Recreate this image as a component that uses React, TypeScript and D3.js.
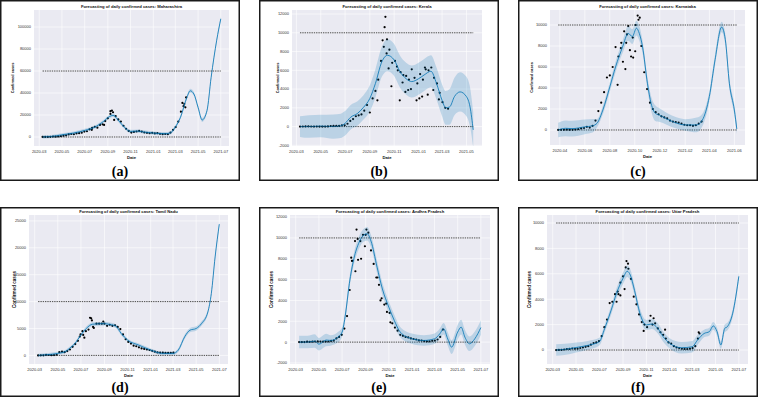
import React from "react";
import * as d3 from "d3";

const W = 759;
const H = 400;

// forecast rows: [date, yhat, half width of the uncertainty band]
type Fc = [string, number, number];
type Pt = [string, number];

const mhForecast: Fc[] = [
  ["2020-03-10", 0, 1500], ["2020-04-01", 400, 1500], ["2020-05-01", 2000, 1500],
  ["2020-06-01", 3600, 1500], ["2020-07-01", 6000, 1500], ["2020-08-01", 9700, 1500],
  ["2020-08-20", 14000, 1500], ["2020-09-05", 18500, 1600], ["2020-09-15", 19700, 1600],
  ["2020-10-01", 14500, 1600], ["2020-10-15", 9000, 1500], ["2020-11-01", 5100, 1500],
  ["2020-11-20", 5400, 1500], ["2020-12-01", 4800, 1500], ["2021-01-01", 3600, 1500],
  ["2021-02-01", 3000, 1500], ["2021-02-15", 3600, 1500], ["2021-03-01", 9000, 1600],
  ["2021-03-15", 18000, 1700], ["2021-04-01", 36000, 1800], ["2021-04-10", 42000, 1800],
  ["2021-04-20", 39000, 1800], ["2021-05-01", 27000, 1800], ["2021-05-12", 15500, 1800],
  ["2021-05-25", 24000, 1800], ["2021-06-05", 54000, 1800], ["2021-06-20", 88000, 1800],
  ["2021-07-01", 107500, 1800],
];
// weekly observations from mhObsStart
const mhObsStart = "2020-03-10";
const mhObs = [
  10, 30, 60, 100, 400, 300, 500, 700, 1200, 1500, 2300, 2700, 2500, 3200, 3500, 3900,
  4900, 5200, 7000, 8300, 9300, 8500, 11000, 11500, 14500, 17000, 21000, 22500, 19000,
  16000, 14000, 10200, 7500, 5500, 4000, 4600, 5000, 5500, 4900, 4100, 3800, 3400, 3800,
  3200, 3500, 2900, 2600, 2700, 2500, 4000, 6500, 9000, 14000, 23000, 28000, 36000,
];
const mhExtra: Pt[] = [
  ["2020-09-12", 24000], ["2020-09-18", 15500], ["2020-08-22", 11000], ["2020-07-20", 6500],
  ["2021-03-25", 30000], ["2021-03-28", 27000], ["2021-03-20", 31000], ["2020-09-08", 23500],
];

const klForecast: Fc[] = [
  ["2020-03-10", 0, 1100], ["2020-04-01", 0, 1200], ["2020-05-01", 50, 1200],
  ["2020-06-01", 0, 1300], ["2020-06-20", 80, 1300], ["2020-07-01", 350, 1300],
  ["2020-07-15", 1000, 1300], ["2020-08-01", 1400, 1300], ["2020-08-15", 2000, 1300],
  ["2020-09-01", 3000, 1400], ["2020-09-15", 4600, 1500], ["2020-10-01", 6900, 1600],
  ["2020-10-15", 7600, 1700], ["2020-11-01", 7100, 1700], ["2020-11-15", 5900, 1700],
  ["2020-12-01", 5100, 1700], ["2020-12-15", 4800, 1700], ["2021-01-01", 5100, 1700],
  ["2021-01-15", 5500, 1700], ["2021-02-01", 5900, 1700], ["2021-02-15", 4600, 1700],
  ["2021-03-01", 2800, 1700], ["2021-03-10", 2000, 1800], ["2021-03-20", 2100, 1900],
  ["2021-04-01", 3200, 2000], ["2021-04-15", 3700, 2100], ["2021-05-01", 3200, 2100],
  ["2021-05-10", 2100, 2100], ["2021-05-18", -350, 1900],
];
const klObsStart = "2020-03-10";
const klObs = [
  5, 10, 20, 30, 10, 5, 10, 5, 0, 5, 20, 60, 80, 90, 80, 140, 130, 300, 600, 800, 1100,
  1200, 1300, 1700, 2300, 1500, 3000, 3800, 5000, 7000, 8500, 7800, 8200, 6800, 7000,
  6000, 5800, 5500, 5400, 5000, 6100, 5200, 4600, 5600, 5000, 6100, 6000, 6300, 5200,
  4600, 3600, 2600, 2000, 1900,
];
const klExtra: Pt[] = [
  ["2020-10-08", 10600], ["2020-10-10", 11700], ["2020-10-03", 9200], ["2020-10-14", 9300],
  ["2020-10-25", 4300], ["2020-11-15", 2800], ["2020-12-06", 3900], ["2020-12-27", 2800],
  ["2021-01-10", 3200], ["2021-01-24", 3400], ["2021-02-07", 3900], ["2021-01-03", 3000],
  ["2020-11-29", 3700], ["2020-11-22", 4700], ["2020-12-13", 4000], ["2021-02-21", 2900],
  ["2020-09-20", 2800], ["2020-10-18", 6200], ["2020-11-08", 6400], ["2021-01-17", 6300],
];

const kaForecast: Fc[] = [
  ["2020-03-28", 0, 700], ["2020-04-15", 160, 750], ["2020-05-01", 130, 750],
  ["2020-06-01", 300, 700], ["2020-06-20", 400, 650], ["2020-07-01", 650, 400],
  ["2020-07-15", 1900, 400], ["2020-08-01", 4100, 450], ["2020-08-15", 6000, 500],
  ["2020-09-01", 7900, 600], ["2020-09-15", 9200, 700], ["2020-09-25", 8900, 700],
  ["2020-10-05", 9700, 700], ["2020-10-12", 9200, 700], ["2020-10-20", 7900, 600],
  ["2020-11-01", 4400, 600], ["2020-11-10", 2500, 700], ["2020-11-20", 1600, 750],
  ["2020-12-01", 1400, 650], ["2021-01-01", 800, 550], ["2021-02-01", 480, 550],
  ["2021-03-01", 480, 700], ["2021-03-15", 950, 600], ["2021-04-01", 3200, 500],
  ["2021-04-15", 6700, 500], ["2021-05-01", 9800, 500], ["2021-05-10", 8600, 500],
  ["2021-05-20", 4400, 500], ["2021-06-01", 1900, 500], ["2021-06-07", 100, 500],
];
const kaObsStart = "2020-03-28";
const kaObs = [
  10, 15, 20, 30, 20, 15, 40, 80, 150, 190, 300, 230, 400, 900, 1800, 2600, 3600, 5000,
  5200, 6000, 7900, 7000, 8300, 9400, 9100, 7600, 8800, 10000, 10500, 8000, 5500, 3900,
  2600, 2000, 1700, 1500, 1300, 1200, 1100, 900, 800, 750, 700, 600, 500, 450, 450, 400,
  450, 600, 800,
];
const kaExtra: Pt[] = [
  ["2020-08-20", 4300], ["2020-09-02", 6500], ["2020-09-08", 5800], ["2020-09-22", 7000],
  ["2020-09-27", 6900], ["2020-09-15", 9900], ["2020-10-08", 10900], ["2020-10-13", 10700],
  ["2020-08-28", 7800], ["2020-09-10", 8300], ["2020-10-02", 7500],
];

const tnForecast: Fc[] = [
  ["2020-03-10", 0, 300], ["2020-04-01", 120, 300], ["2020-05-01", 370, 300],
  ["2020-05-20", 680, 300], ["2020-06-01", 1300, 300], ["2020-06-15", 2200, 300],
  ["2020-07-01", 3800, 300], ["2020-07-15", 5000, 350], ["2020-08-01", 5800, 350],
  ["2020-09-01", 5900, 350], ["2020-09-15", 5750, 350], ["2020-10-01", 5450, 350],
  ["2020-10-15", 4100, 350], ["2020-11-01", 2850, 300], ["2020-12-01", 1900, 300],
  ["2021-01-01", 1000, 300], ["2021-02-01", 370, 300], ["2021-03-01", 370, 300],
  ["2021-03-15", 1000, 350], ["2021-04-01", 3500, 400], ["2021-04-15", 4700, 400],
  ["2021-05-01", 5000, 400], ["2021-05-15", 5900, 400], ["2021-06-01", 8100, 400],
  ["2021-06-10", 11500, 400], ["2021-06-20", 18300, 400], ["2021-07-01", 24400, 400],
];
const tnObsStart = "2020-03-10";
const tnObs = [
  0, 5, 15, 100, 70, 40, 60, 120, 600, 700, 600, 800, 1100, 1600, 2100, 2700, 3900, 3800,
  4500, 4800, 6900, 5100, 5900, 5900, 5900, 5900, 5500, 5700, 5500, 5600, 5300, 4900, 3900,
  3000, 2500, 2200, 1800, 1700, 1500, 1300, 1200, 1100, 1000, 850, 700, 550, 530, 500, 460,
  450, 470, 500,
];
const tnExtra: Pt[] = [
  ["2020-07-25", 7000], ["2020-07-30", 6500], ["2020-08-02", 5300], ["2020-07-10", 3300],
  ["2020-07-05", 4500], ["2020-06-28", 3500], ["2020-08-29", 6300],
];

const apForecast: Fc[] = [
  ["2020-03-10", 0, 600], ["2020-04-01", 0, 600], ["2020-04-20", 100, 650],
  ["2020-05-01", -200, 600], ["2020-05-20", 200, 600], ["2020-06-01", 160, 500],
  ["2020-06-20", 480, 500], ["2020-07-01", 960, 450], ["2020-07-10", 2700, 450],
  ["2020-07-20", 5600, 500], ["2020-08-01", 8000, 550], ["2020-08-15", 9600, 600],
  ["2020-08-25", 10200, 600], ["2020-09-05", 10400, 650], ["2020-09-15", 9700, 600],
  ["2020-10-01", 7200, 600], ["2020-10-15", 5100, 600], ["2020-11-01", 3350, 550],
  ["2020-11-15", 2100, 550], ["2020-12-01", 960, 500], ["2021-01-01", 320, 500],
  ["2021-02-01", 160, 500], ["2021-03-01", 320, 500], ["2021-03-15", 800, 500],
  ["2021-03-25", 1280, 550], ["2021-04-05", 300, 650], ["2021-04-15", -480, 650],
  ["2021-05-01", 960, 700], ["2021-05-10", 1440, 700], ["2021-05-20", 480, 700],
  ["2021-06-01", -160, 700], ["2021-06-15", 320, 700], ["2021-07-01", 1400, 700],
];
const apObsStart = "2020-03-10";
const apObs = [
  0, 0, 5, 40, 30, 40, 60, 70, 60, 50, 50, 60, 110, 150, 350, 500, 700, 1300, 2500, 5000,
  7800, 9700, 9900, 9700, 10300, 10300, 10500, 8800, 7500, 6200, 5500, 4200, 3600, 2900,
  2800, 1800, 1400, 1100, 700, 600, 500, 450, 350, 300, 250, 160, 150, 100, 70, 80, 120,
  150, 250, 500, 1200,
];
const apExtra: Pt[] = [
  ["2020-07-25", 8100], ["2020-07-27", 7800], ["2020-08-05", 6800], ["2020-08-12", 7900],
  ["2020-08-20", 8000], ["2020-08-08", 10800], ["2020-09-03", 10800], ["2020-10-02", 6200],
  ["2020-10-25", 3700], ["2020-11-05", 1900], ["2020-10-10", 4000], ["2020-08-30", 9200],
];

const upForecast: Fc[] = [
  ["2020-03-10", 0, 450], ["2020-04-01", 50, 450], ["2020-05-01", 200, 400],
  ["2020-06-01", 370, 350], ["2020-07-01", 660, 300], ["2020-07-15", 1700, 300],
  ["2020-08-01", 3150, 350], ["2020-08-15", 4470, 400], ["2020-09-01", 5650, 450],
  ["2020-09-12", 6200, 450], ["2020-09-20", 5900, 450], ["2020-10-01", 4700, 400],
  ["2020-10-15", 2900, 400], ["2020-11-01", 1970, 400], ["2020-11-15", 2050, 400],
  ["2020-12-01", 1700, 400], ["2020-12-15", 1050, 400], ["2021-01-01", 530, 400],
  ["2021-02-01", 180, 450], ["2021-03-01", 260, 450], ["2021-03-15", 790, 400],
  ["2021-04-01", 1300, 300], ["2021-04-15", 1450, 300], ["2021-04-25", 1900, 300],
  ["2021-05-05", 1450, 300], ["2021-05-15", 400, 300], ["2021-05-25", 1700, 300],
  ["2021-06-01", 1840, 300], ["2021-06-15", 2900, 300], ["2021-07-01", 5800, 300],
];
const upObsStart = "2020-03-10";
const upObs = [
  0, 5, 10, 40, 80, 90, 120, 100, 110, 160, 200, 250, 300, 420, 550, 600, 700, 1100, 1800,
  2400, 3700, 3800, 4400, 4600, 5300, 5800, 6500, 6400, 5600, 4200, 3600, 2800, 2200, 2000,
  1800, 2300, 2000, 2100, 1700, 1400, 1200, 900, 600, 500, 300, 200, 150, 100, 90, 80, 110,
  150, 300, 900,
];
const upExtra: Pt[] = [
  ["2020-09-10", 7000], ["2020-09-14", 6800], ["2020-09-05", 4800], ["2020-08-20", 4400],
  ["2020-08-15", 3800], ["2020-11-12", 2700], ["2020-11-20", 2500], ["2020-10-25", 1500],
  ["2020-12-20", 1600], ["2021-03-18", 1400], ["2021-03-20", 1300], ["2020-08-25", 4300],
];

// tick labels
const monthTicksMar = ["2020-03", "2020-05", "2020-07", "2020-09", "2020-11", "2021-01", "2021-03", "2021-05", "2021-07"];
const monthTicksKl = ["2020-03", "2020-05", "2020-07", "2020-09", "2020-11", "2021-01", "2021-03", "2021-05"];
const monthTicksKa = ["2020-04", "2020-06", "2020-08", "2020-10", "2020-12", "2021-02", "2021-04", "2021-06"];
const yTicksMh = [0, 20000, 40000, 60000, 80000, 100000];
const yTicksWide = [-2000, 0, 2000, 4000, 6000, 8000, 10000, 12000];
const yTicks10k = [0, 2000, 4000, 6000, 8000, 10000];
const yTicksTn = [0, 5000, 10000, 15000, 20000, 25000];

const panels = [
  {
    state: "Maharashtra", tag: "(a)", forecast: mhForecast, obsStart: mhObsStart, obs: mhObs, extra: mhExtra,
    cap: 60000, xTicks: monthTicksMar, yTicks: yTicksMh,
    box: [0, 0, 240, 181], plot: [34, 10, 229, 146], xDomain: ["2020-02-16", "2021-07-23"], yDomain: [-8200, 115500],
    ylabX: 13, row: 0,
  },
  {
    state: "Kerala", tag: "(b)", forecast: klForecast, obsStart: klObsStart, obs: klObs, extra: klExtra,
    cap: 10000, xTicks: monthTicksKl, yTicks: yTicksWide,
    box: [259, 0, 499, 181], plot: [292, 10, 482, 146], xDomain: ["2020-02-19", "2021-06-09"], yDomain: [-2070, 12430],
    ylabX: 278, row: 0,
  },
  {
    state: "Karnataka", tag: "(c)", forecast: kaForecast, obsStart: kaObsStart, obs: kaObs, extra: kaExtra,
    cap: 10000, xTicks: monthTicksKa, yTicks: yTicks10k,
    box: [518, 0, 758, 181], plot: [550, 10, 745, 145], xDomain: ["2020-03-08", "2021-06-27"], yDomain: [-1430, 11430],
    ylabX: 532, row: 0,
  },
  {
    state: "Tamil Nadu", tag: "(d)", forecast: tnForecast, obsStart: tnObsStart, obs: tnObs, extra: tnExtra,
    cap: 10000, xTicks: monthTicksMar, yTicks: yTicksTn,
    box: [0, 207, 240, 397], plot: [29, 215, 228, 364], xDomain: ["2020-02-15", "2021-07-24"], yDomain: [-1600, 26100],
    ylabX: 14, row: 1,
  },
  {
    state: "Andhra Pradesh", tag: "(e)", forecast: apForecast, obsStart: apObsStart, obs: apObs, extra: apExtra,
    cap: 10000, xTicks: monthTicksMar, yTicks: yTicksWide,
    box: [259, 207, 499, 397], plot: [290, 215, 490, 364], xDomain: ["2020-02-15", "2021-07-25"], yDomain: [-2100, 12200],
    ylabX: 271, row: 1,
  },
  {
    state: "Uttar Pradesh", tag: "(f)", forecast: upForecast, obsStart: upObsStart, obs: upObs, extra: upExtra,
    cap: 10000, xTicks: monthTicksMar, yTicks: yTicks10k,
    box: [518, 207, 758, 397], plot: [547, 215, 748, 364], xDomain: ["2020-02-15", "2021-07-25"], yDomain: [-1100, 10630],
    ylabX: 529, row: 1,
  },
];

const parseDate = d3.timeParse("%Y-%m-%d");
const parseMonth = d3.timeParse("%Y-%m");
const fcColor = "#0072B2";
const sans = "'Liberation Sans', Arial, sans-serif";

const Panel = ({ cfg, idx }: any) => {
  const [l, t, r, b] = cfg.plot;
  const [bx0, by0, bx1, by1] = cfg.box;
  const x = d3.scaleTime().domain(cfg.xDomain.map((d: string) => parseDate(d))).range([l, r]);
  const y = d3.scaleLinear().domain(cfg.yDomain).range([b, t]);

  const fc = cfg.forecast.map(([d, v, s]: Fc) => ({ date: parseDate(d) as Date, v, s }));
  const start = parseDate(cfg.obsStart) as Date;
  const obs = cfg.obs.map((v: number, i: number) => ({ date: d3.timeDay.offset(start, i * 7), v }));
  const extra = cfg.extra.map(([d, v]: Pt) => ({ date: parseDate(d) as Date, v }));

  const band = d3
    .area<any>()
    .x((d) => x(d.date))
    .y0((d) => y(d.v - d.s))
    .y1((d) => y(d.v + d.s))
    .curve(d3.curveMonotoneX);
  const line = d3
    .line<any>()
    .x((d) => x(d.date))
    .y((d) => y(d.v))
    .curve(d3.curveMonotoneX);

  const xa = x(fc[0].date);
  const xb = x(fc[fc.length - 1].date);
  const clipId = `clip${idx}`;
  const big = cfg.row === 1;
  const tickY = b + 6;

  return (
    <g>
      <rect x={bx0 + 0.75} y={by0 + 0.75} width={bx1 - bx0 - 1.5} height={by1 - by0 - 1.5} fill="#fff" stroke="#1a1a1a" strokeWidth={1.5} />
      <defs>
        <clipPath id={clipId}>
          <rect x={l} y={t} width={r - l} height={b - t} />
        </clipPath>
      </defs>
      <rect x={l} y={t} width={r - l} height={b - t} fill="#EAEAF2" />
      {/* grid */}
      {cfg.yTicks.map((v: number) => (
        <line key={`gy${v}`} x1={l} x2={r} y1={y(v)} y2={y(v)} stroke="#fff" strokeWidth={0.6} />
      ))}
      {cfg.xTicks.map((m: string) => (
        <line key={`gx${m}`} x1={x(parseMonth(m) as Date)} x2={x(parseMonth(m) as Date)} y1={t} y2={b} stroke="#fff" strokeWidth={0.6} />
      ))}
      <g clipPath={`url(#${clipId})`}>
        {obs.concat(extra).map((d: any, i: number) => (
          <circle key={i} cx={x(d.date)} cy={y(d.v)} r={1.1} fill="#000" />
        ))}
        <path d={line(fc) || ""} fill="none" stroke={fcColor} strokeWidth={0.8} />
        <line x1={xa} x2={xb} y1={y(cfg.cap)} y2={y(cfg.cap)} stroke="#000" strokeWidth={0.7} strokeDasharray="1.4,0.9" />
        <line x1={xa} x2={xb} y1={y(0)} y2={y(0)} stroke="#000" strokeWidth={0.7} strokeDasharray="1.4,0.9" />
        <path d={band(fc) || ""} fill={fcColor} fillOpacity={0.2} />
      </g>
      {/* tick labels */}
      {cfg.yTicks.map((v: number) => (
        <text key={`ty${v}`} x={l - 3} y={y(v)} dy="0.35em" textAnchor="end" fontSize={4} fill="#333" fontFamily={sans}>
          {v}
        </text>
      ))}
      {cfg.xTicks.map((m: string) => (
        <text key={`tx${m}`} x={x(parseMonth(m) as Date)} y={tickY} dy="0.35em" textAnchor="middle" fontSize={4} fill="#333" fontFamily={sans}>
          {m}
        </text>
      ))}
      <text x={(l + r) / 2} y={t - 2.5} textAnchor="middle" fontSize={4.2} fontWeight="bold" fontFamily={sans} fill="#111">
        {`Forecasting of daily confirmed cases: ${cfg.state}`}
      </text>
      <text x={(l + r) / 2} y={tickY + 6.5} textAnchor="middle" fontSize={4.2} fontWeight="bold" fontFamily={sans} fill="#111">
        Date
      </text>
      <text
        transform={`translate(${cfg.ylabX},${(t + b) / 2}) rotate(-90)`}
        textAnchor="middle"
        dy="0.35em"
        fontSize={big ? 4.6 : 3.8}
        fontWeight="bold"
        fontFamily={sans}
        fill="#111"
      >
        Confirmed cases
      </text>
      <text x={(bx0 + bx1) / 2} y={by1 - 5} textAnchor="middle" fontSize={14} fontWeight="bold" fontFamily="'Liberation Serif', 'Times New Roman', serif" fill="#000">
        {cfg.tag}
      </text>
    </g>
  );
};

export default function App() {
  return (
    <svg width={W} height={H} style={{ position: "absolute", top: 0, left: 0, background: "#fff" }}>
      {panels.map((p, i) => (
        <Panel key={p.tag} cfg={p} idx={i} />
      ))}
    </svg>
  );
}
